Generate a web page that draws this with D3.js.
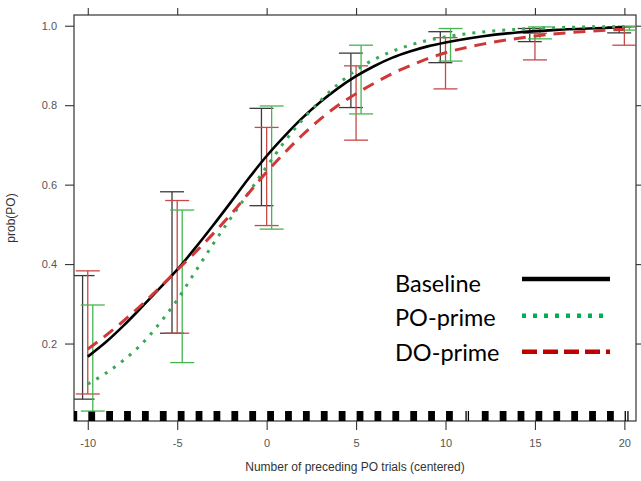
<!DOCTYPE html>
<html>
<head>
<meta charset="utf-8">
<script src="https://cdn.jsdelivr.net/npm/d3@7"></script>
<style>
  html, body { margin: 0; padding: 0; background: #fff; }
  svg { display: block; }
</style>
</head>
<body>
<script>
// ---------------- data ----------------
const curveX      = [-10,-9,-8,-7,-6,-5,-4,-3,-2,-1,0,1,2,3,4,5,6,7,8,9,10,12,14,16,18,20];
const baselineY   = [0.167,0.203,0.245,0.291,0.338,0.386,0.440,0.497,0.556,0.616,0.672,0.722,0.768,0.808,0.843,0.873,0.898,0.919,0.935,0.948,0.958,0.973,0.983,0.989,0.993,0.996];
const poPrimeY    = [0.098,0.125,0.158,0.198,0.250,0.310,0.380,0.450,0.516,0.580,0.645,0.708,0.763,0.811,0.853,0.888,0.915,0.935,0.951,0.963,0.972,0.984,0.991,0.995,0.997,0.998];
const doPrimeY    = [0.186,0.220,0.257,0.297,0.340,0.385,0.429,0.476,0.525,0.579,0.632,0.680,0.725,0.765,0.800,0.829,0.855,0.879,0.899,0.917,0.932,0.953,0.968,0.979,0.986,0.991];

const groupX  = [-10,-5,0,5,10,15,20];
const baseLo  = [0.060,0.226,0.547,0.794,0.907,0.960,0.982];
const baseHi  = [0.371,0.582,0.792,0.931,0.985,0.993,0.997];
const poLo    = [0.030,0.152,0.488,0.778,0.911,0.967,0.989];
const poHi    = [0.297,0.536,0.798,0.951,0.993,0.997,0.999];
const doLo    = [0.073,0.226,0.497,0.712,0.841,0.914,0.951];
const doHi    = [0.383,0.560,0.744,0.899,0.970,0.981,0.997];

const xTicks = [-10,-5,0,5,10,15,20];
const yTicks = [0.2,0.4,0.6,0.8,1.0];
const rugBlocks = [-11,-10,-9,-8,-7,-6,-5,-4,-3,-2,-1,0,1,2,3,4,5,6,7,8,9,10,12,13,14,15,16,17,18,19];
const rugLines  = [11.15,11.28,20.05,20.2];

const seriesNames = ["Baseline","PO-prime","DO-prime"];
const xTitle = "Number of preceding PO trials (centered)";
const yTitle = "prob(PO)";

// ---------------- layout ----------------
const W = 641, H = 481;
const L = 74, R = 636, T = 15, B = 421;

const svg = d3.select("body").append("svg").attr("width", W).attr("height", H);

const x = d3.scaleLinear().domain([-10.77, 20.65]).range([L, R]);
const y = d3.scaleLinear().domain([0.005, 1.027]).range([B, T]);

svg.append("defs").append("clipPath").attr("id","clip")
  .append("rect").attr("x", L).attr("y", T).attr("width", R-L).attr("height", B-T);

const tickCol = "#333", labCol = "#555";

// axes
const gL = svg.append("g").attr("transform",`translate(${L},0)`)
  .call(d3.axisLeft(y).tickValues(yTicks).tickFormat(d3.format(".1f")).tickSize(9).tickPadding(8));
const gB = svg.append("g").attr("transform",`translate(0,${B})`)
  .call(d3.axisBottom(x).tickValues(xTicks).tickFormat(d=>String(d)).tickSize(9).tickPadding(9));
const gT = svg.append("g").attr("transform",`translate(0,${T})`)
  .call(d3.axisTop(x).tickValues(xTicks).tickFormat("").tickSize(7));
const gR = svg.append("g").attr("transform",`translate(${R},0)`)
  .call(d3.axisRight(y).tickValues(yTicks).tickFormat("").tickSize(7));
[gL,gB,gT,gR].forEach(g=>{
  g.select(".domain").remove();
  g.selectAll(".tick line").attr("stroke", tickCol).attr("stroke-width", 1.1);
  g.selectAll(".tick text").attr("fill", labCol).style("font-family","'Liberation Sans', Arial, sans-serif").style("font-size","11px");
});

// border
svg.append("rect").attr("x",L).attr("y",T).attr("width",R-L).attr("height",B-T)
  .attr("fill","none").attr("stroke",tickCol).attr("stroke-width",1.2);

// axis titles
svg.append("text").attr("x",(L+R)/2).attr("y",471).attr("text-anchor","middle")
  .attr("fill","#333").style("font-family","'Liberation Sans', Arial, sans-serif").style("font-size","12px")
  .text(xTitle);
svg.append("text").attr("transform",`translate(15,${(T+B)/2}) rotate(-90)`).attr("text-anchor","middle")
  .attr("fill","#333").style("font-family","'Liberation Sans', Arial, sans-serif").style("font-size","12px")
  .text(yTitle);

const plot = svg.append("g").attr("clip-path","url(#clip)");

// rug
plot.selectAll("rect.rug").data(rugBlocks).enter().append("rect").attr("class","rug")
  .attr("x", d=>x(d+0.03)).attr("width", d=>x(d+0.41)-x(d+0.03))
  .attr("y", B-10).attr("height", 10).attr("fill","#000");
plot.selectAll("line.rugl").data(rugLines).enter().append("line").attr("class","rugl")
  .attr("x1", d=>x(d)).attr("x2", d=>x(d)).attr("y1", B-10).attr("y2", B)
  .attr("stroke","#000").attr("stroke-width",1.3);

// error bars
const bars = [
  {lo: baseLo, hi: baseHi, off: -0.29, col: "#3a3a3a"},
  {lo: doLo,   hi: doHi,   off:  0.0,  col: "#c84848"},
  {lo: poLo,   hi: poHi,   off:  0.28, col: "#45b550"}
];
const capHalf = 12;
bars.forEach(s=>{
  const g = plot.append("g").attr("stroke", s.col).attr("stroke-width",1.3).attr("fill","none");
  groupX.forEach((gx,i)=>{
    const cx = x(gx + s.off);
    g.append("line").attr("x1",cx).attr("x2",cx).attr("y1",y(s.lo[i])).attr("y2",y(s.hi[i]));
    g.append("line").attr("x1",cx-capHalf).attr("x2",cx+capHalf).attr("y1",y(s.lo[i])).attr("y2",y(s.lo[i]));
    g.append("line").attr("x1",cx-capHalf).attr("x2",cx+capHalf).attr("y1",y(s.hi[i])).attr("y2",y(s.hi[i]));
  });
});

// curves
const line = d3.line().x(d=>x(d[0])).y(d=>y(d[1])).curve(d3.curveMonotoneX);
const zip = ys => curveX.map((v,i)=>[v, ys[i]]);
plot.append("path").attr("d", line(zip(baselineY))).attr("fill","none")
  .attr("stroke","#000").attr("stroke-width",2.6);
plot.append("path").attr("d", line(zip(poPrimeY))).attr("fill","none")
  .attr("stroke","#3aa856").attr("stroke-width",3).attr("stroke-dasharray","3 7");
plot.append("path").attr("d", line(zip(doPrimeY))).attr("fill","none")
  .attr("stroke","#d03838").attr("stroke-width",3).attr("stroke-dasharray","12 8");

// legend
const leg = svg.append("g");
const legRows = [
  {name: seriesNames[0], ly: 279,   ty: 292, col: "#000",    dash: null,   w: 4.5},
  {name: seriesNames[1], ly: 315.7, ty: 326, col: "#00b050", dash: "4 7",  w: 4.5},
  {name: seriesNames[2], ly: 351.7, ty: 361, col: "#c00000", dash: "15 6", w: 4.5}
];
legRows.forEach(r=>{
  leg.append("text").attr("x",395).attr("y",r.ty).attr("fill","#000")
    .style("font-family","Lato, 'Open Sans', sans-serif").style("font-size","23.5px").text(r.name);
  const l = leg.append("line").attr("x1",522).attr("x2",610).attr("y1",r.ly).attr("y2",r.ly)
    .attr("stroke",r.col).attr("stroke-width",r.w);
  if (r.dash) l.attr("stroke-dasharray", r.dash);
});
</script>
</body>
</html>
